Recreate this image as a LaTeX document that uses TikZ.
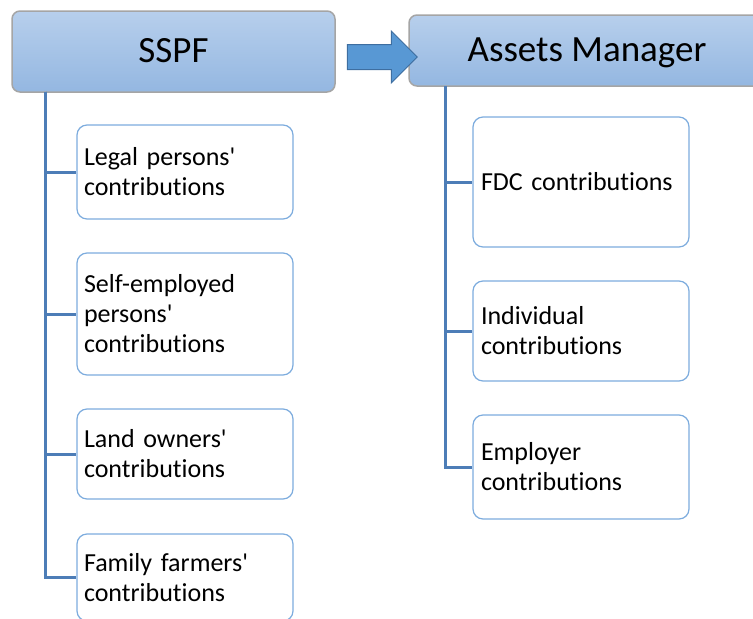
\documentclass[tikz,border=0pt]{standalone}
\usepackage{fontspec}
\setmainfont{Carlito}[Ligatures=NoCommon]
\usepackage{tikz}
\usetikzlibrary{shapes,arrows,positioning}
\definecolor{headtop}{RGB}{183,207,236}
\definecolor{headbot}{RGB}{148,183,225}
\definecolor{headline}{RGB}{165,165,165}
\definecolor{leafline}{RGB}{125,172,222}
\definecolor{linkblue}{RGB}{77,125,183}
\definecolor{flowfill}{RGB}{88,152,212}
\definecolor{flowline}{RGB}{62,110,160}
\newcommand{\apos}{\textquotesingle}
\tikzstyle{head} = [rectangle, rounded corners=8pt, draw=headline, line width=1.5pt, top color=headtop, bottom color=headbot, inner sep=0pt, text height=21pt, text depth=0pt, font=\fontsize{37}{44}\selectfont]
\tikzstyle{leaf} = [rectangle, rounded corners=10pt, draw=leafline, line width=1.2pt, fill=white, align=left, inner ysep=0pt, font=\fontsize{26}{30}\selectfont]
\tikzstyle{link} = [line width=3pt, draw=linkblue]
\tikzstyle{flow} = [single arrow, draw=flowline, fill=flowfill, line width=1pt, inner xsep=0pt, inner ysep=12pt, single arrow head extend=13.5pt, minimum height=70pt]

\begin{document}
\begin{tikzpicture}[x=1pt, y=-1pt]
    \useasboundingbox (0,0) rectangle (753,619);
    % Heads
    \node [head, minimum width=323pt, minimum height=81pt] (sspf) at (173.5,51.5) {SSPF};
    \node [head, minimum width=356pt, minimum height=71pt] (amgr) at (587,50.5) {Assets Manager};
    \node [flow] (handover) at (376,57) {};

    % SSPF contributions
    \node [leaf, text width=202pt, inner xsep=7pt, minimum height=94pt] (legal) at (185,172) {Legal persons\apos\\contributions};
    \node [leaf, text width=202pt, inner xsep=7pt, minimum height=122pt] (selfemp) at (185,314) {Self-employed\\persons\apos\\contributions};
    \node [leaf, text width=202pt, inner xsep=7pt, minimum height=90pt] (land) at (185,454) {Land owners\apos\\contributions};
    \node [leaf, text width=202pt, inner xsep=7pt, minimum height=87pt] (family) at (185,577.5) {Family farmers\apos\\contributions};

    % Assets Manager contributions
    \node [leaf, text width=200pt, inner xsep=8pt, minimum height=130pt] (fdc) at (581,182) {FDC contributions};
    \node [leaf, text width=200pt, inner xsep=8pt, minimum height=100pt] (indiv) at (581,331) {Individual\\contributions};
    \node [leaf, text width=200pt, inner xsep=8pt, minimum height=104pt] (employer) at (581,467) {Employer\\contributions};

    % Links
    \coordinate (sspfroot) at (45,91.5);
    \coordinate (amgrroot) at (445,86);
    \draw [link] (sspfroot) |- (legal.west);
    \draw [link] (sspfroot) |- (selfemp.west);
    \draw [link] (sspfroot) |- (land.west);
    \draw [link] (sspfroot) |- (family.west);
    \draw [link] (amgrroot) |- (fdc.west);
    \draw [link] (amgrroot) |- (indiv.west);
    \draw [link] (amgrroot) |- (employer.west);
\end{tikzpicture}
\end{document}
